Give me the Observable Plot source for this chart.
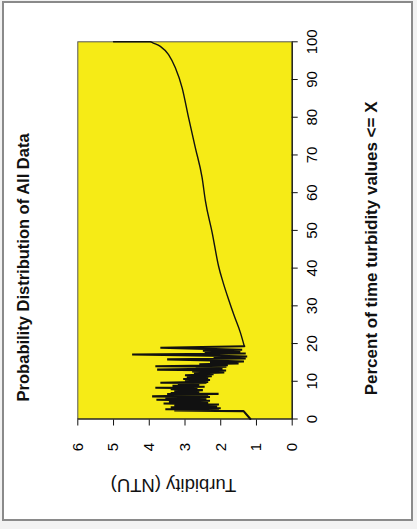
<!DOCTYPE html>
<html>
<head>
<meta charset="utf-8">
<script src="https://cdn.jsdelivr.net/npm/d3@7"></script>
<script src="https://cdn.jsdelivr.net/npm/@observablehq/plot@0.6"></script>
<style>
html, body { margin: 0; padding: 0; background: #fff; }
#page { position: relative; width: 417px; height: 529px; overflow: hidden; background: #f2f2f2; }
#inner { position: absolute; left: 2px; top: 1px; width: 407px; height: 516px; border: 2px solid #8a8a8a; background: #fff; }
#chart { position: absolute; left: -56px; top: 56px; width: 529px; height: 417px; transform: rotate(-90deg); transform-origin: 50% 50%; }
</style>
</head>
<body>
<div id="page"><div id="inner"></div><div id="chart"></div></div>
<script>
// Percent of time turbidity values <= X (x) and Turbidity in NTU (y)
const pct = [
  0.0, 2.1, 2.12, 2.25, 2.5, 2.6, 2.85, 3.1, 3.35, 3.6,
  3.85, 4.1, 4.35, 4.6, 4.85, 5.1, 5.35, 5.6, 5.85, 6.0,
  6.3, 6.6, 6.65, 6.9, 7.15, 7.4, 7.65, 7.9, 8.15, 8.3,
  8.55, 8.8, 9.05, 9.3, 9.55, 9.6, 9.85, 10.1, 10.35, 10.6,
  10.85, 11.1, 11.35, 11.6, 11.85, 12.1, 12.35, 12.6, 12.85, 13.1,
  13.35, 13.6, 13.85, 14.0, 14.25, 14.5, 14.75, 15.0, 15.25, 15.5,
  15.8, 16.05, 16.3, 16.55, 16.8, 17.1, 17.35, 17.6, 17.85, 18.1,
  18.35, 18.6, 18.9, 19.3,
  22.9, 27.3, 31.7, 36.1, 40.5, 49.4, 57.9, 63.9, 71.9, 79.9,
  87.8, 93.1, 96.6, 98.8, 99.7, 100, 100
];
const ntu = [
  1.17, 1.36, 2.1, 3.3, 2.05, 3.55, 2.0, 3.4, 2.1, 3.3,
  2.05, 3.6, 2.35, 3.45, 2.3, 3.8, 2.4, 3.55, 2.3, 3.92,
  2.35, 3.5, 2.06, 3.4, 2.6, 3.3, 2.5, 3.4, 2.65, 3.83,
  2.45, 3.35, 2.6, 3.2, 2.4, 3.69, 2.35, 3.0, 2.3, 3.05,
  2.35, 2.95, 2.25, 3.0, 2.2, 2.75, 1.9, 2.8, 1.85, 3.78,
  1.95, 2.7, 1.84, 3.83, 1.8, 2.6, 1.5, 2.3, 1.35, 2.25,
  3.5, 1.3, 2.2, 1.26, 2.3, 4.48, 1.3, 2.45, 1.45, 2.5,
  1.4, 2.4, 3.69, 1.34,
  1.45, 1.62, 1.78, 1.93, 2.06, 2.24, 2.43, 2.52, 2.71, 2.9,
  3.08, 3.27, 3.46, 3.69, 3.9, 3.97, 5.0
];
const xTicks = [0, 10, 20, 30, 40, 50, 60, 70, 80, 90, 100];
const yTicks = [0, 1, 2, 3, 4, 5, 6];
const titleText = "Probability Distribution of All Data";
const xLabelText = "Percent of time turbidity values <= X";
const yLabelText = "Turbidity (NTU)";

const data = pct.map((p, i) => ({p, t: ntu[i]}));

const chart = Plot.plot({
  width: 529,
  height: 417,
  marginLeft: 109.5,
  marginRight: 42.3,
  marginTop: 77.3,
  marginBottom: 125.3,
  x: {domain: [0, 100]},
  y: {domain: [0, 6]},
  style: {fontFamily: "'Liberation Sans', Arial, sans-serif", color: "#000", background: "transparent", overflow: "visible"},
  marks: [
    Plot.frame({fill: "#f6eb16", stroke: "#555", strokeWidth: 1}),
    Plot.ruleX([0], {stroke: "#111", strokeWidth: 1.2}),
    Plot.ruleY([0], {stroke: "#111", strokeWidth: 1.2}),
    Plot.axisX({ticks: xTicks, tickSize: 6, tickPadding: 8, fontSize: 15, label: null, stroke: "#111", tickFormat: d => String(d)}),
    Plot.axisY({ticks: yTicks, tickSize: 6, tickPadding: 18, fontSize: 15, label: null, stroke: "#111", tickFormat: d => String(d)}),
    Plot.line(data, {filter: d => d.p <= 19.3, x: "p", y: "t", stroke: "#111", strokeWidth: 2.1, strokeLinejoin: "miter"}),
    Plot.line(data, {filter: d => d.p >= 19.3, x: "p", y: "t", stroke: "#111", strokeWidth: 1.4, curve: "monotone-y"}),
    Plot.text([titleText], {frameAnchor: "top", text: d => d, dy: -54.3, dx: -37, lineAnchor: "middle", textAnchor: "middle", fontSize: 16.5, fontWeight: "bold", fill: "#111"}),
    Plot.text([xLabelText], {frameAnchor: "bottom", text: d => d, dy: 79.3, dx: -18, lineAnchor: "middle", textAnchor: "middle", fontSize: 17, fontWeight: "bold", fill: "#111"}),
    Plot.text([yLabelText], {frameAnchor: "left", text: d => d, dx: -65.5, dy: -11.5, rotate: -90, lineAnchor: "middle", textAnchor: "middle", fontSize: 18.5, fill: "#111"})
  ]
});
document.getElementById("chart").appendChild(chart);
</script>
</body>
</html>
